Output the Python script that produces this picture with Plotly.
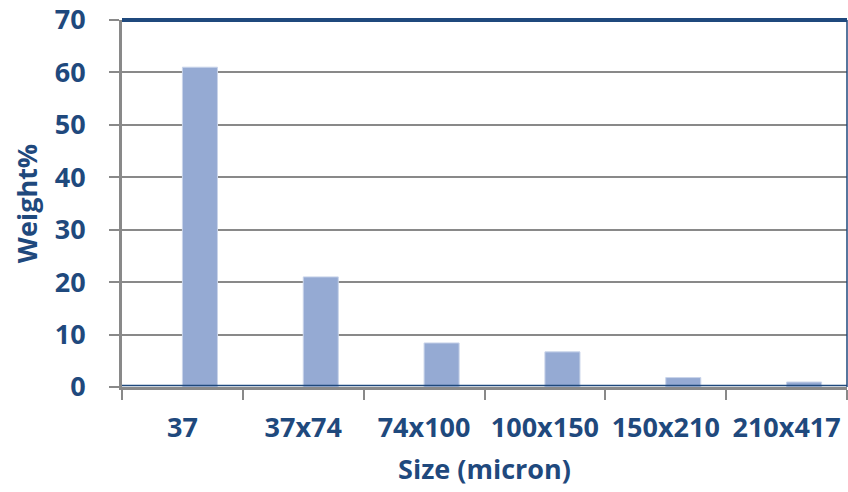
import plotly.graph_objects as go

# Particle size distribution
sizes = ["37", "37x74", "74x100", "100x150", "150x210", "210x417"]
weight_pct = [61, 21, 8.4, 6.7, 1.8, 0.95]
y_ticks = [0, 10, 20, 30, 40, 50, 60, 70]

navy = "#1F497D"
grey = "#898989"
bold = dict(family="Open Sans", size=27, color=navy, weight="bold")

fig = go.Figure(
    go.Bar(
        x=sizes,
        y=weight_pct,
        width=0.29,
        offset=0,
        marker=dict(color="#95AAD3", line=dict(color="#C9D4EA", width=1)),
    )
)

fig.update_layout(
    width=848,
    height=492,
    margin=dict(l=122, r=1, t=20, b=105),
    paper_bgcolor="white",
    plot_bgcolor="white",
    showlegend=False,
    font=bold,
    shapes=[
        # frame: thick top, thin right and bottom
        dict(type="line", xref="paper", yref="paper", x0=0, x1=1, y0=1, y1=1,
             line=dict(color=navy, width=4)),
        dict(type="line", xref="paper", yref="paper", x0=1, x1=1, y0=0, y1=1,
             line=dict(color=navy, width=1.5)),
        dict(type="line", xref="paper", yref="paper", x0=0, x1=1, y0=0.004, y1=0.004,
             line=dict(color=navy, width=1.5)),
    ],
)

fig.update_xaxes(
    type="category",
    tickson="boundaries",
    ticks="outside",
    ticklen=10,
    tickwidth=2,
    tickcolor=grey,
    showline=True,
    linecolor=grey,
    linewidth=3,
    showgrid=False,
    tickfont=bold,
    ticklabelstandoff=15,
    title=dict(text="Size (micron)", font=bold, standoff=16),
)

fig.update_yaxes(
    range=[0, 70],
    tickvals=y_ticks,
    ticks="outside",
    ticklen=10,
    tickwidth=2,
    tickcolor=grey,
    showline=True,
    linecolor=grey,
    linewidth=3,
    showgrid=True,
    gridcolor=grey,
    gridwidth=2,
    zeroline=False,
    tickfont=bold,
    ticklabelstandoff=18,
    title=dict(text="Weight%", font=bold, standoff=10),
)

fig.write_html("out.html")
